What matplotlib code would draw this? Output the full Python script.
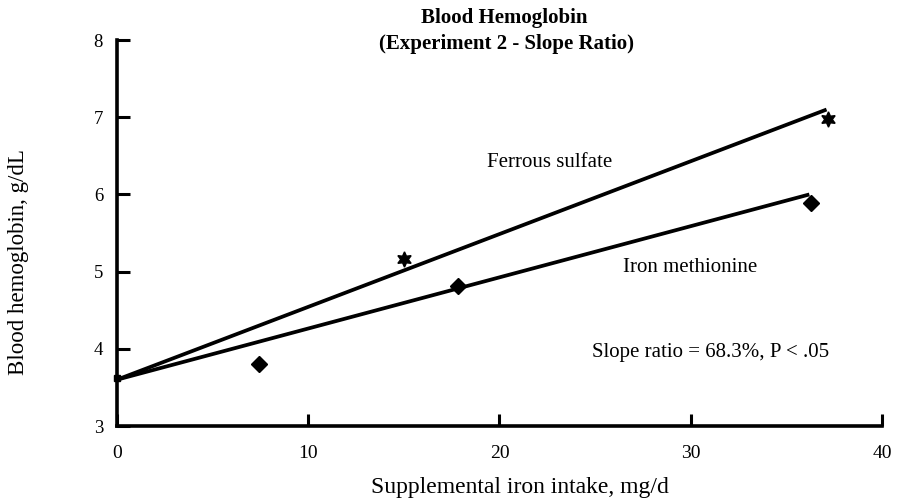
import matplotlib
matplotlib.use("Agg")
import matplotlib.pyplot as plt

plt.rcParams['font.family'] = ['Liberation Serif', 'DejaVu Serif']

# Data
fs_x = [15.0, 37.2]
fs_y = [5.17, 6.98]
im_x = [7.4, 17.85, 36.3]
im_y = [3.80, 4.81, 5.89]
origin_x = [0.0]
origin_y = [3.62]
# fitted lines (start / end)
fs_fit_x = [0.0, 37.1]
fs_fit_y = [3.6, 7.1]
im_fit_x = [0.0, 36.2]
im_fit_y = [3.6, 6.0]

xticks = [0, 10, 20, 30, 40]
yticks = [3, 4, 5, 6, 7, 8]

W, H = 897, 501

def px(x, y):
    return x / W, 1 - y / H

fig = plt.figure(figsize=(8.97, 5.01), dpi=100)
ax = fig.add_axes([0.1304, 0.1497, 0.8529, 0.7703])

ax.plot(fs_fit_x, fs_fit_y, color='black', lw=2.7, solid_capstyle='butt')
ax.plot(im_fit_x, im_fit_y, color='black', lw=2.7, solid_capstyle='butt')
ax.plot(fs_x, fs_y, linestyle='none', marker=(6, 1, 0), markersize=11, color='black')
ax.plot(im_x, im_y, linestyle='none', marker='D', markersize=8.5, color='black')
ax.plot(origin_x, origin_y, linestyle='none', marker='s', markersize=4, color='black', clip_on=False)

ax.set_xlim(0, 40)
ax.set_ylim(3, 8)
ax.set_xticks(xticks)
ax.set_yticks(yticks)
ax.tick_params(direction='in', length=9, width=2.2)
ax.tick_params(axis='x', labelsize=14, pad=14)
ax.tick_params(axis='y', labelsize=13.5, pad=10)
for s in ['top', 'right']:
    ax.spines[s].set_visible(False)
for s in ['left', 'bottom']:
    ax.spines[s].set_linewidth(2.6)

fig.text(*px(504, 18), 'Blood Hemoglobin', fontsize=15,
         fontweight='bold', ha='center', va='center')
fig.text(*px(506, 44), '(Experiment 2 - Slope Ratio)', fontsize=15,
         fontweight='bold', ha='center', va='center')
fig.text(*px(520, 488), 'Supplemental iron intake, mg/d', fontsize=17,
         ha='center', va='center')
fig.text(*px(19, 262), 'Blood hemoglobin, g/dL', fontsize=16.5,
         ha='center', va='center', rotation=90)

fig.text(*px(550, 163), 'Ferrous sulfate', fontsize=15, ha='center', va='center')
fig.text(*px(690, 268), 'Iron methionine', fontsize=15, ha='center', va='center')
fig.text(*px(592, 353), 'Slope ratio = 68.3%, P < .05', fontsize=15, ha='left', va='center')

fig.savefig('out.png', dpi=100)
